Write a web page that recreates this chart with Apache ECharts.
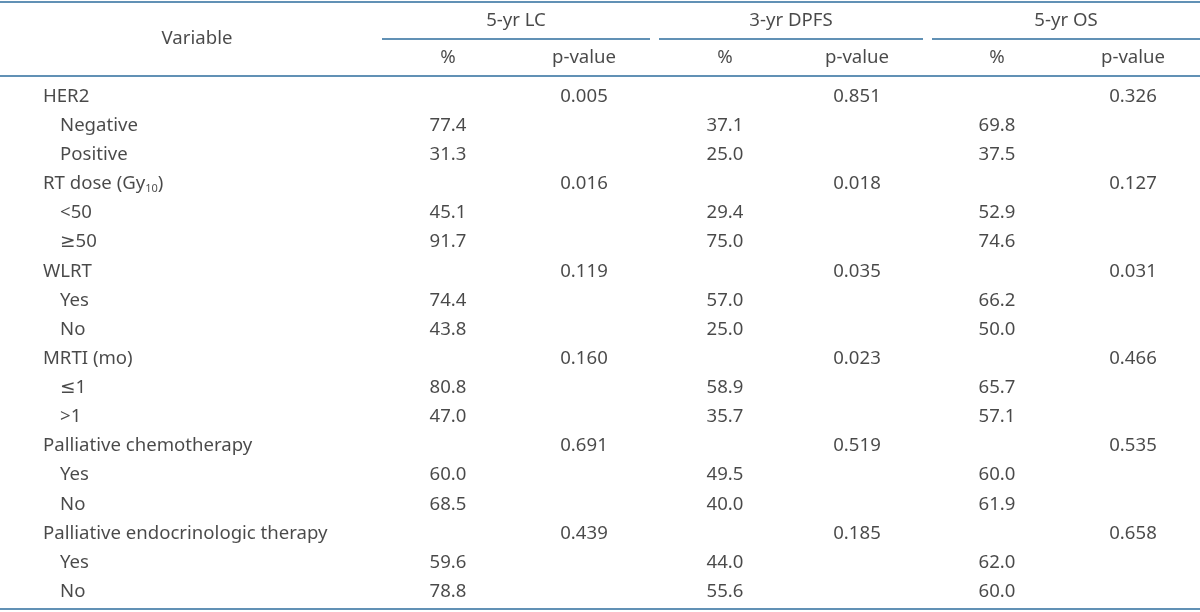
<!DOCTYPE html>
<html>
<head>
<meta charset="utf-8">
<script src="https://cdn.jsdelivr.net/npm/echarts@6/dist/echarts.min.js"></script>
<style>
html,body{margin:0;padding:0;background:#fff;}
#chart{width:1200px;height:612px;}
</style>
</head>
<body>
<div id="chart"></div>
<script>
// ---- data ----
const rowLabels = ['HER2','Negative','Positive','RT dose (Gy10)','<50','≥50','WLRT','Yes','No','MRTI (mo)','≤1','>1','Palliative chemotherapy','Yes','No','Palliative endocrinologic therapy','Yes','No'];
const rowLevel  = [0,1,1,0,1,1,0,1,1,0,1,1,0,1,1,0,1,1];
const lcPct   = [null,77.4,31.3,null,45.1,91.7,null,74.4,43.8,null,80.8,47.0,null,60.0,68.5,null,59.6,78.8];
const lcP     = [0.005,null,null,0.016,null,null,0.119,null,null,0.160,null,null,0.691,null,null,0.439,null,null];
const dpfsPct = [null,37.1,25.0,null,29.4,75.0,null,57.0,25.0,null,58.9,35.7,null,49.5,40.0,null,44.0,55.6];
const dpfsP   = [0.851,null,null,0.018,null,null,0.035,null,null,0.023,null,null,0.519,null,null,0.185,null,null];
const osPct   = [null,69.8,37.5,null,52.9,74.6,null,66.2,50.0,null,65.7,57.1,null,60.0,61.9,null,62.0,60.0];
const osP     = [0.326,null,null,0.127,null,null,0.031,null,null,0.466,null,null,0.535,null,null,0.658,null,null];
const groupHeaders = ['5-yr LC','3-yr DPFS','5-yr OS'];
const subHeaders = ['%','p-value'];
const firstHeader = 'Variable';

// ---- layout (positions, not data) ----
const TEXT = '#1c1c1c';
const RULE = '#2c6d9c';
const FONT = '"Noto Sans", "DejaVu Sans", sans-serif';
const FS = 18.6;
const labelX = [43, 60];
const valueCols = [448, 584, 725, 857, 997, 1133];
const groupSpan = [[382,650],[659,923],[932,1200]];
const varX = 197;

const valueSeriesArrays = [
  [lcPct, 1], [lcP, 3], [dpfsPct, 1], [dpfsP, 3], [osPct, 1], [osP, 3]
];

const labelData = rowLabels.map((t,i)=>[labelX[rowLevel[i]], i, t]);
const valueData = [];
valueSeriesArrays.forEach(([arr,dec],c)=>{
  arr.forEach((v,i)=>{ if(v!==null) valueData.push([valueCols[c], i, v.toFixed(dec)]); });
});
const headerData = [[varX, 1, firstHeader]];
groupHeaders.forEach((g,k)=>{
  headerData.push([(groupSpan[k][0]+groupSpan[k][1])/2, 0.5, g]);
  subHeaders.forEach((s,j)=>headerData.push([valueCols[k*2+j], 1.5, s]));
});

function fmtLabel(p){
  const t = p.value[2];
  const m = t.match(/^(.*Gy)(10)(\).*)$/);
  if(m) return '{t|'+m[1]+'}{s|'+m[2]+'}{t|'+m[3]+'}';
  return '{t|'+t+'}';
}
const rich = {
  t:{fontSize:FS, fontFamily:FONT, color:TEXT},
  s:{fontSize:11, fontFamily:FONT, color:TEXT, padding:[9,0,0,0]}
};
const baseSeries = {
  type:'scatter', symbolSize:1, itemStyle:{color:'transparent'}, silent:true,
  encode:{x:0,y:1}
};

const chart = echarts.init(document.getElementById('chart'), null, {renderer:'canvas'});
chart.setOption({
  animation:false,
  backgroundColor:'#fff',
  textStyle:{fontFamily:FONT},
  grid:[
    {left:0, right:0, top:82, height:524.2},
    {left:0, right:0, top:2, height:74}
  ],
  xAxis:[
    {type:'value', gridIndex:0, min:0, max:1200, show:false},
    {type:'value', gridIndex:1, min:0, max:1200, show:false}
  ],
  yAxis:[
    {type:'category', gridIndex:0, inverse:true, data:rowLabels.map((_,i)=>String(i)), show:false},
    {type:'value', gridIndex:1, inverse:true, min:0, max:2, show:false}
  ],
  series:[
    Object.assign({}, baseSeries, {xAxisIndex:0, yAxisIndex:0, data:labelData,
      label:{show:true, position:'inside', align:'left', verticalAlign:'middle', formatter:fmtLabel, rich:rich}}),
    Object.assign({}, baseSeries, {xAxisIndex:0, yAxisIndex:0, data:valueData,
      label:{show:true, position:'inside', align:'center', verticalAlign:'middle', formatter:fmtLabel, rich:rich}}),
    Object.assign({}, baseSeries, {xAxisIndex:1, yAxisIndex:1, data:headerData,
      label:{show:true, position:'inside', align:'center', verticalAlign:'middle', formatter:fmtLabel, rich:rich},
      markLine:{silent:true, symbol:'none', label:{show:false},
        lineStyle:{color:RULE, width:1.5, type:'solid'},
        data:[
          [{coord:[0,0]},{coord:[1200,0]}],
          [{coord:[0,2]},{coord:[1200,2]}]
        ].concat(groupSpan.map(s=>[{coord:[s[0],1]},{coord:[s[1],1]}]))
      }})
  ],
  graphic:[
    {type:'line', shape:{x1:0,y1:609,x2:1200,y2:609}, style:{stroke:RULE, lineWidth:1.5}, silent:true}
  ]
});
</script>
</body>
</html>
